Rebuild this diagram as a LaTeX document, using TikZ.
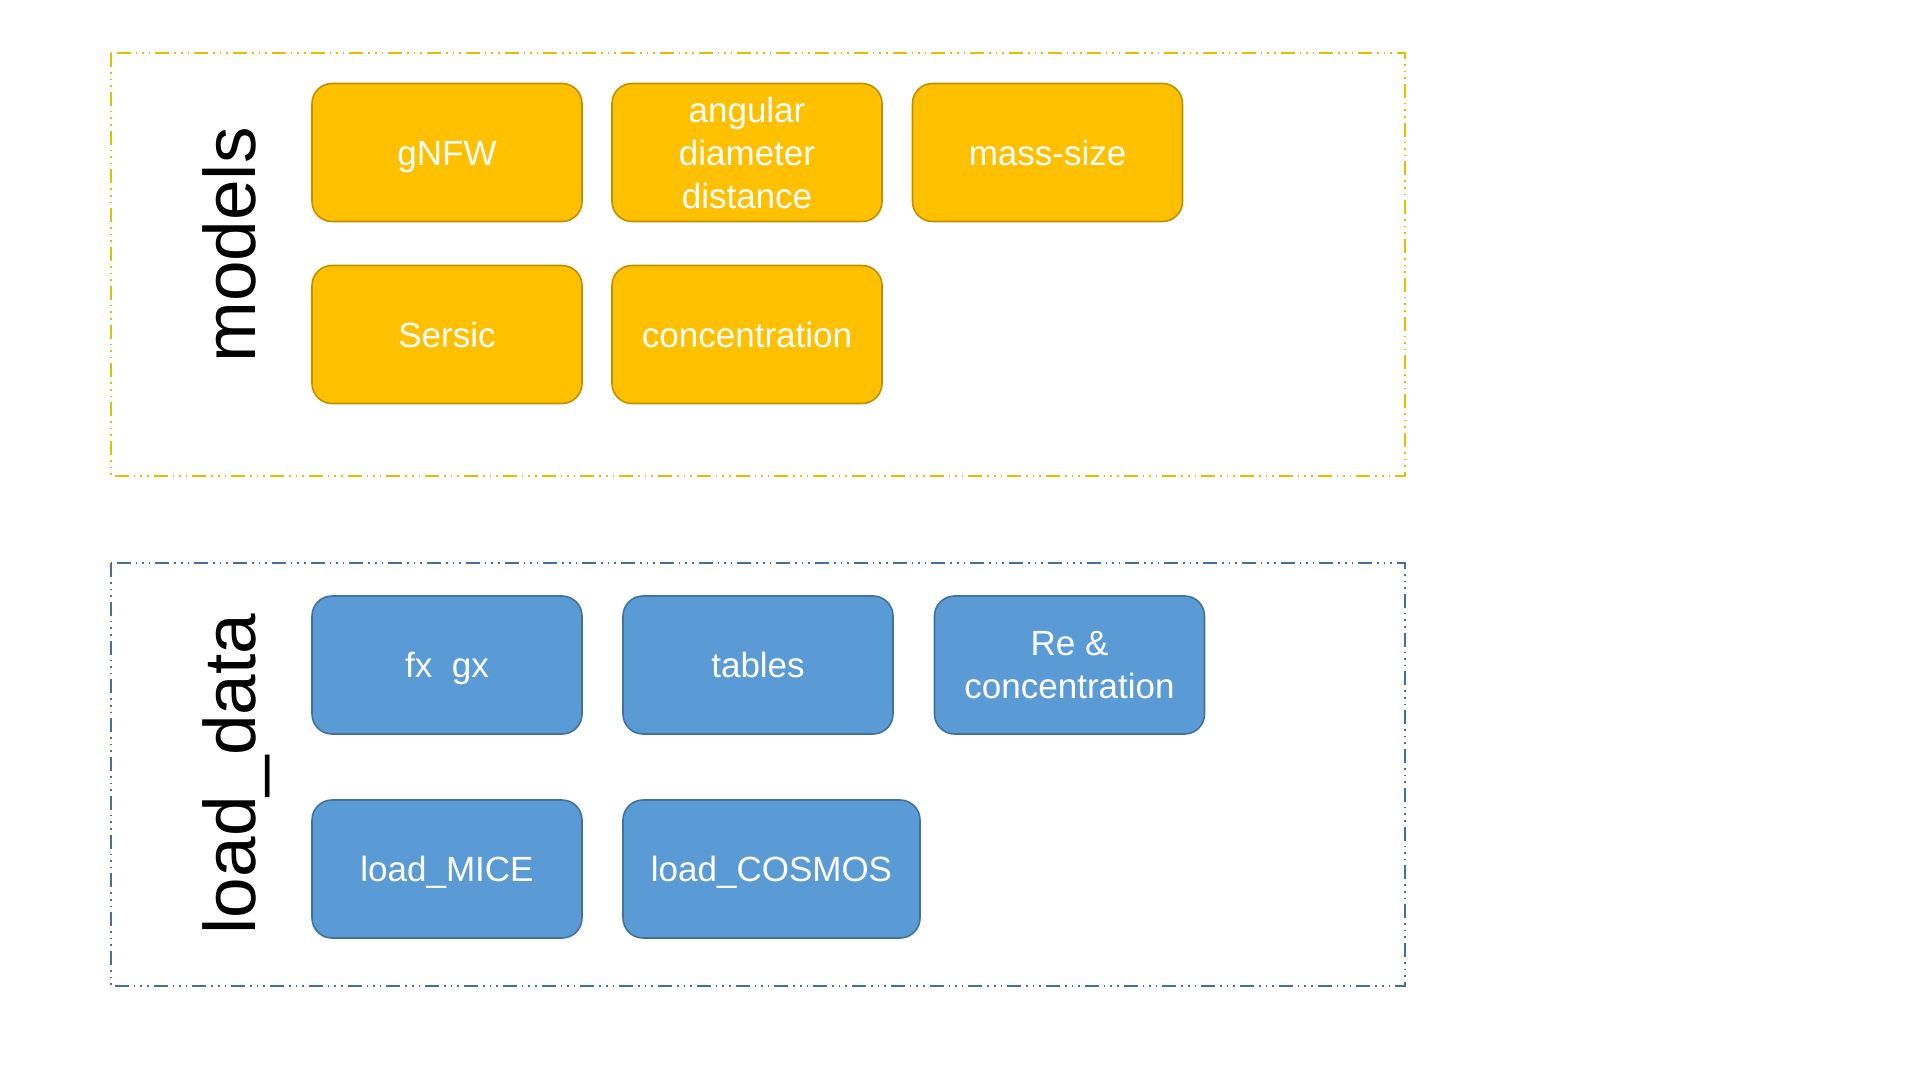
\documentclass[tikz,border=0pt]{standalone}
\usepackage{fontspec}
\setmainfont{Liberation Sans}
\usepackage{tikz}
\usetikzlibrary{positioning}

\definecolor{modfill}{HTML}{FFC000}
\definecolor{moddraw}{HTML}{BF9000}
\definecolor{modframe}{HTML}{E6BE00}
\definecolor{datfill}{HTML}{5B9BD5}
\definecolor{datdraw}{HTML}{41719C}

\tikzset{
	modbox/.style={draw=moddraw, fill=modfill, line width=0.8pt, rounded corners=10pt,
		text=white, align=center, text centered, minimum width=135pt, minimum height=69pt,
		text height=12.6pt, text depth=0pt,
		font=\fontsize{17.5}{21.5}\selectfont},
	datbox/.style={modbox, draw=datdraw, fill=datfill},
	multiline/.style={text height=, text depth=},
	groupframe/.style={line width=1pt,
		dash pattern=on 7pt off 2.5pt on 0.8pt off 2.5pt on 0.8pt off 2.5pt on 0.8pt off 2.5pt},
	grouplabel/.style={rotate=90, anchor=base, font=\fontsize{36.5}{40}\selectfont}
}

\begin{document}
\begin{tikzpicture}[x=0.5pt, y=-0.5pt]
			
			\useasboundingbox (0,0) rectangle (1920,1080);
			
			%Frames
			\draw[groupframe, draw=modframe] (111,53) rectangle (1405,476);
			\draw[groupframe, draw=datdraw] (111,563) rectangle (1405,986);
			
			%Labels
			\node (modlabel) at (255,245) [grouplabel]{models};
			\node (datlabel) at (255,774) [grouplabel]{load\_data};
			
			%Models
			\node (gnfw) at (447,152.5) [modbox]{gNFW};
			\node (angdist) at (747,152.5) [modbox, multiline]{angular\\diameter\\distance};
			\node (masssize) at (1047.5,152.5) [modbox]{mass-size};
			\node (sersic) at (447,334.5) [modbox]{Sersic};
			\node (conc) at (747,334.5) [modbox]{concentration};
			
			%Load data
			\node (fxgx) at (447,665) [datbox]{fx\ \ gx};
			\node (tables) at (758,665) [datbox]{tables};
			\node (reconc) at (1069.5,665) [datbox, multiline]{Re \&\\concentration};
			\node (mice) at (447,869) [datbox]{load\_MICE};
			\node (cosmos) at (771.5,869) [datbox, minimum width=148.5pt]{load\_COSMOS};
			
			\end{tikzpicture}
\end{document}
